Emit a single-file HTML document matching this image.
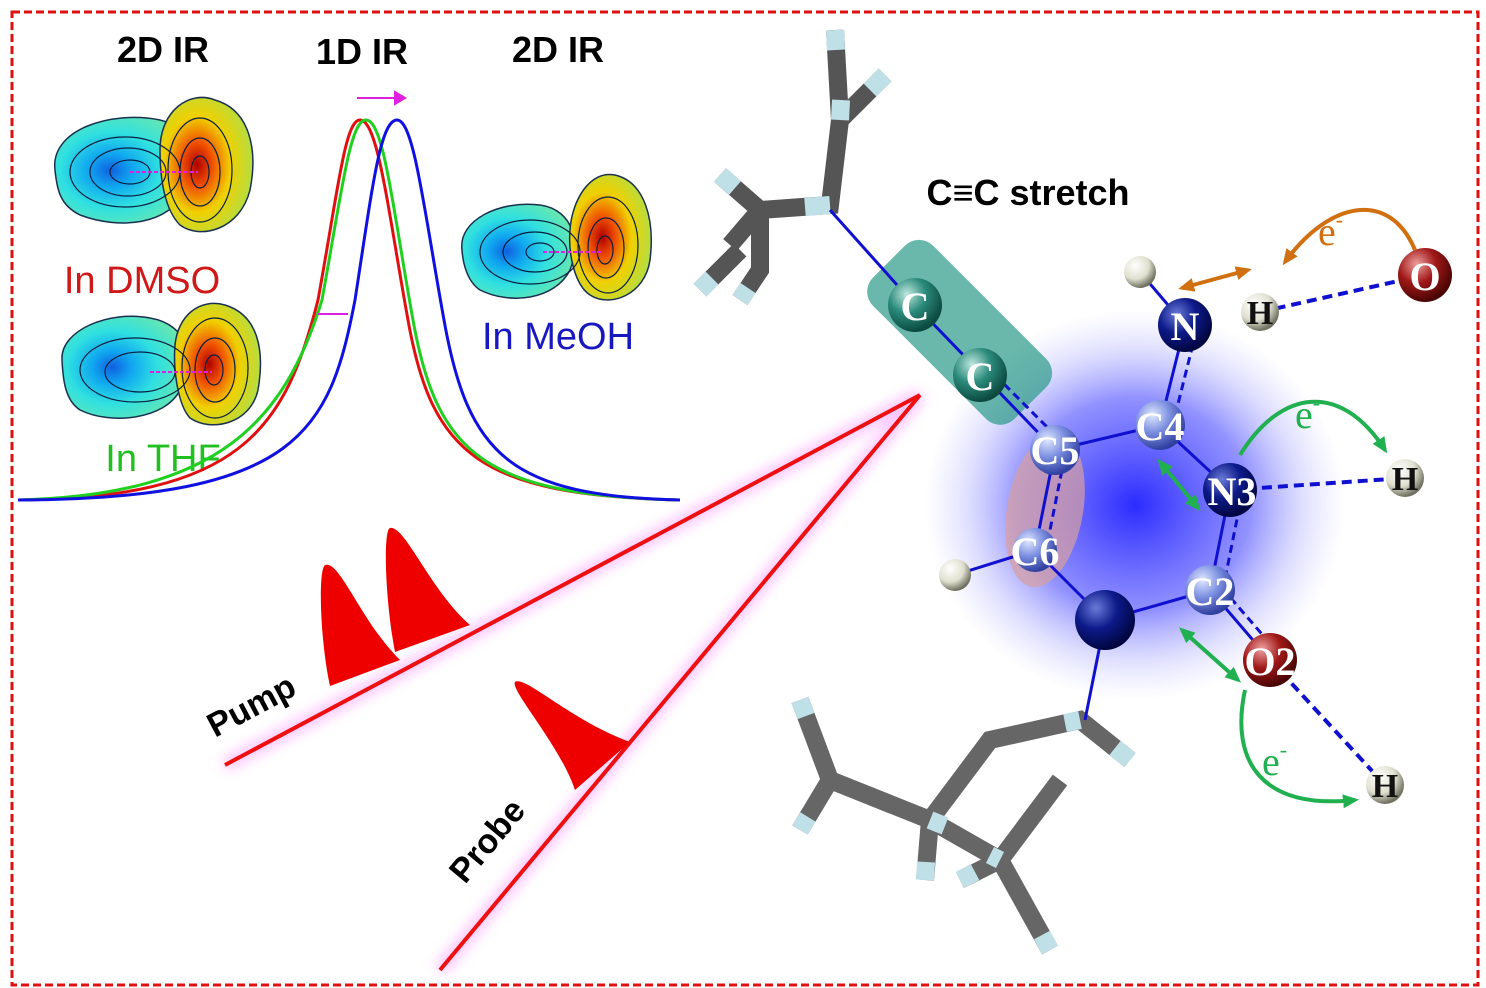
<!DOCTYPE html>
<html><head><meta charset="utf-8"><style>
body{margin:0;background:#fff;}
svg{display:block;font-family:"Liberation Sans",sans-serif;}
</style></head><body>
<svg width="1486" height="988" viewBox="0 0 1486 988" xmlns="http://www.w3.org/2000/svg">
<defs>
<radialGradient id="glow" cx="50%" cy="50%" r="50%">
<stop offset="0" stop-color="#2020ff" stop-opacity="0.95"/>
<stop offset="0.55" stop-color="#4848ff" stop-opacity="0.6"/>
<stop offset="0.8" stop-color="#8080ff" stop-opacity="0.25"/>
<stop offset="1" stop-color="#a0a0ff" stop-opacity="0"/>
</radialGradient>
<radialGradient id="navy" cx="35%" cy="30%" r="70%"><stop offset="0" stop-color="#6a7ad8"/><stop offset="0.5" stop-color="#0d1a8a"/><stop offset="1" stop-color="#020640"/></radialGradient>
<radialGradient id="cblue" cx="35%" cy="30%" r="70%"><stop offset="0" stop-color="#e0e8ff"/><stop offset="0.5" stop-color="#7b8ee0"/><stop offset="1" stop-color="#3040a0"/></radialGradient>
<radialGradient id="teal" cx="35%" cy="30%" r="70%"><stop offset="0" stop-color="#bfe8e0"/><stop offset="0.5" stop-color="#2a8a7a"/><stop offset="1" stop-color="#0c4a40"/></radialGradient>
<radialGradient id="red" cx="35%" cy="30%" r="70%"><stop offset="0" stop-color="#f0a0a0"/><stop offset="0.5" stop-color="#a01818"/><stop offset="1" stop-color="#4a0505"/></radialGradient>
<radialGradient id="white" cx="35%" cy="30%" r="70%"><stop offset="0" stop-color="#ffffff"/><stop offset="0.6" stop-color="#e0e0d0"/><stop offset="1" stop-color="#707060"/></radialGradient>
<radialGradient id="cyan" cx="40%" cy="50%" r="65%"><stop offset="0" stop-color="#1060e0"/><stop offset="0.25" stop-color="#10a8f0"/><stop offset="0.55" stop-color="#30e0e0"/><stop offset="1" stop-color="#70e8a8"/></radialGradient>
<radialGradient id="yel" cx="40%" cy="50%" r="65%"><stop offset="0" stop-color="#b00000"/><stop offset="0.25" stop-color="#f05000"/><stop offset="0.55" stop-color="#f0d000"/><stop offset="1" stop-color="#a8e050"/></radialGradient>
<filter id="blur"><feGaussianBlur stdDeviation="6"/></filter>
<marker id="ag" markerUnits="userSpaceOnUse" markerWidth="16" markerHeight="14" refX="12" refY="7" orient="auto"><path d="M0,0 L16,7 L0,14Z" fill="#20b050"/></marker>
<marker id="ao" markerUnits="userSpaceOnUse" markerWidth="16" markerHeight="14" refX="12" refY="7" orient="auto"><path d="M0,0 L16,7 L0,14Z" fill="#d07010"/></marker>
<marker id="ags" markerUnits="userSpaceOnUse" markerWidth="16" markerHeight="14" refX="12" refY="7" orient="auto-start-reverse"><path d="M0,0 L16,7 L0,14Z" fill="#20b050"/></marker>
<marker id="aos" markerUnits="userSpaceOnUse" markerWidth="16" markerHeight="14" refX="12" refY="7" orient="auto-start-reverse"><path d="M0,0 L16,7 L0,14Z" fill="#d07010"/></marker>
</defs>
<rect x="12" y="12" width="1466" height="973" fill="none" stroke="#e01010" stroke-width="3" stroke-dasharray="8,4"/>

<g font-weight="bold" font-size="36" fill="#000" text-anchor="middle">
<text x="163" y="62">2D IR</text><text x="362" y="64">1D IR</text><text x="558" y="62">2D IR</text>
<text x="1028" y="205">C≡C stretch</text>
</g>

<g stroke="#1a3050" stroke-width="1.5">
<path d="M55,170 C50,130 110,110 160,120 C200,130 200,165 185,190 C170,225 120,230 80,215 C60,205 57,190 55,170Z" fill="url(#cyan)"/>
<path d="M160,150 C160,110 190,90 215,100 C250,110 258,150 250,190 C240,230 200,240 180,225 C165,210 160,180 160,150Z" fill="url(#yel)"/>
<path d="M62,360 C60,330 110,310 150,318 C190,325 195,360 180,390 C165,420 110,425 80,410 C65,400 63,380 62,360Z" fill="url(#cyan)"/>
<path d="M175,345 C178,315 200,298 225,305 C258,315 265,350 258,390 C250,425 210,432 190,418 C178,405 173,370 175,345Z" fill="url(#yel)"/>
<path d="M462,250 C458,220 500,200 540,205 C575,210 580,245 570,270 C555,300 510,305 480,290 C468,282 463,265 462,250Z" fill="url(#cyan)"/>
<path d="M570,230 C572,200 590,170 615,175 C645,182 655,220 650,260 C645,295 610,308 590,295 C575,285 568,255 570,230Z" fill="url(#yel)"/>
</g>
<g fill="none" stroke="#0a2040" stroke-width="1.2">
<ellipse cx="125" cy="172" rx="55" ry="35"/><ellipse cx="128" cy="172" rx="38" ry="24"/><ellipse cx="130" cy="172" rx="20" ry="12"/>
<ellipse cx="200" cy="170" rx="32" ry="52"/><ellipse cx="200" cy="172" rx="20" ry="34"/><ellipse cx="200" cy="172" rx="9" ry="16"/>
<ellipse cx="135" cy="370" rx="55" ry="32"/><ellipse cx="140" cy="372" rx="35" ry="20"/>
<ellipse cx="215" cy="368" rx="33" ry="50"/><ellipse cx="215" cy="370" rx="20" ry="32"/><ellipse cx="214" cy="370" rx="9" ry="15"/>
<ellipse cx="530" cy="252" rx="50" ry="32"/><ellipse cx="535" cy="252" rx="32" ry="20"/><ellipse cx="540" cy="252" rx="14" ry="9"/>
<ellipse cx="608" cy="245" rx="30" ry="48"/><ellipse cx="606" cy="248" rx="18" ry="30"/><ellipse cx="605" cy="250" rx="8" ry="14"/>
</g>
<g stroke="#e020e0" stroke-width="2" stroke-dasharray="4,2"><line x1="130" y1="172" x2="198" y2="172"/><line x1="150" y1="372" x2="212" y2="372"/><line x1="543" y1="252" x2="603" y2="252"/></g>
<g font-size="38" text-anchor="middle">
<text x="142" y="293" fill="#d01818">In DMSO</text>
<text x="163" y="471" fill="#20c020">In THF</text>
<text x="558" y="349" fill="#1818c0">In MeOH</text>
</g>

<g fill="none" stroke-width="3">
<path d="M18,500 C240,498 285,430 318,300 C338,190 345,120 360,120 C378,120 388,210 408,320 C432,455 480,495 680,500" stroke="#e01010"/>
<path d="M18,500 C220,495 285,420 322,300 C342,190 350,120 366,120 C384,120 393,210 413,320 C437,455 485,495 680,500" stroke="#20d020"/>
<path d="M18,500 C300,499 330,430 355,300 C372,190 380,120 397,120 C414,120 424,210 444,320 C468,455 510,496 680,500" stroke="#1010e0"/>
</g>
<g stroke="#e020e0" stroke-width="2" fill="#e020e0">
<line x1="357" y1="98" x2="397" y2="98"/><path d="M405,98 L395,92 L395,104Z"/>
<line x1="318" y1="314" x2="348" y2="314"/>
</g>

<g stroke="#ff60ff" stroke-width="14" opacity="0.35" filter="url(#blur)" fill="none">
<line x1="225" y1="765" x2="920" y2="395"/><line x1="440" y1="970" x2="920" y2="395"/>
</g>
<g stroke="#ee1010" stroke-width="4"><line x1="225" y1="765" x2="920" y2="395"/><line x1="440" y1="970" x2="920" y2="395"/></g>
<g fill="#ee0000">
<path d="M330,686 C320,640 318,570 325,565 C340,560 360,620 400,660 Z"/>
<path d="M395,652 C385,600 383,530 390,528 C405,525 430,590 470,625 Z"/>
<path d="M575,790 C560,745 510,690 515,682 C525,675 570,720 630,742 Z"/>
</g>
<g font-weight="bold" font-size="34" fill="#000">
<text transform="translate(215,738) rotate(-28)">Pump</text>
<text transform="translate(465,885) rotate(-50)">Probe</text>
</g>

<ellipse cx="1135" cy="505" rx="210" ry="195" fill="url(#glow)"/>
<rect x="860" y="290" width="200" height="85" rx="20" fill="#2a9a88" opacity="0.7" transform="rotate(45,960,332)"/>
<ellipse cx="1045" cy="510" rx="38" ry="78" fill="#d8a0a0" opacity="0.7" transform="rotate(10,1045,510)"/>

<g stroke-linecap="butt" stroke-width="18" fill="none">
<path d="M835,30 L840,120 L885,75 M840,120 L830,205 L760,210 L730,245 M760,210 L720,175 M760,210 L760,270 L740,300 M700,290 L740,250" stroke="#555"/>
<path d="M800,700 L830,780 L930,820 L990,740 L1080,720 L1130,760 M930,820 L1000,860 L1050,950 M1000,860 L1060,780 M830,780 L800,830 M930,820 L925,880 M1000,860 L960,880" stroke="#666"/>
<path d="M835,30 L836,50 M885,75 L870,90 M720,175 L735,188 M700,290 L712,278 M740,300 L748,288 M830,205 L805,207 M840,120 L841,100 M800,700 L806,716 M1050,950 L1042,935 M800,830 L808,817 M925,880 L926,862 M960,880 L975,872 M1130,760 L1115,748 M1080,720 L1065,723 M930,820 L945,826 M1000,860 L990,855" stroke="#c0e0e8"/>
</g>
<g stroke="#1010d0" stroke-width="3" fill="none">
<line x1="830" y1="210" x2="915" y2="305"/>
<line x1="915" y1="305" x2="1055" y2="450"/>
<line x1="1055" y1="450" x2="1160" y2="425"/>
<line x1="1160" y1="425" x2="1230" y2="490"/>
<line x1="1230" y1="490" x2="1210" y2="590"/>
<line x1="1210" y1="590" x2="1105" y2="620"/>
<line x1="1105" y1="620" x2="1035" y2="550"/>
<line x1="1035" y1="550" x2="1055" y2="450"/>
<line x1="1160" y1="425" x2="1185" y2="325"/>
<line x1="1210" y1="590" x2="1270" y2="660"/>
<line x1="1105" y1="620" x2="1085" y2="720"/>
<line x1="1035" y1="550" x2="955" y2="575"/>
<line x1="1185" y1="325" x2="1140" y2="272"/>
</g>
<g stroke="#1010d0" stroke-width="3" stroke-dasharray="8,5" fill="none">
<line x1="1045" y1="555" x2="1065" y2="455"/>
<line x1="1172" y1="428" x2="1197" y2="328"/>
<line x1="1242" y1="494" x2="1222" y2="594"/>
<line x1="1222" y1="588" x2="1280" y2="655"/>
<line x1="995" y1="375" x2="1060" y2="440"/>
</g>
<g stroke="#1010d0" stroke-width="4" stroke-dasharray="10,6" fill="none">
<line x1="1260" y1="312" x2="1425" y2="275"/>
<line x1="1230" y1="490" x2="1405" y2="478"/>
<line x1="1270" y1="660" x2="1385" y2="785"/>
</g>

<g>
<circle cx="915" cy="305" r="27" fill="url(#teal)"/>
<circle cx="980" cy="375" r="27" fill="url(#teal)"/>
<circle cx="1055" cy="450" r="25" fill="url(#cblue)"/>
<circle cx="1160" cy="425" r="25" fill="url(#cblue)"/>
<circle cx="1230" cy="490" r="27" fill="url(#navy)"/>
<circle cx="1210" cy="590" r="25" fill="url(#cblue)"/>
<circle cx="1270" cy="660" r="27" fill="url(#red)"/>
<circle cx="1105" cy="620" r="30" fill="url(#navy)"/>
<circle cx="1035" cy="550" r="22" fill="url(#cblue)"/>
<circle cx="1185" cy="325" r="27" fill="url(#navy)"/>
<circle cx="1260" cy="312" r="19" fill="url(#white)"/>
<circle cx="1425" cy="275" r="27" fill="url(#red)"/>
<circle cx="1405" cy="478" r="19" fill="url(#white)"/>
<circle cx="1385" cy="785" r="19" fill="url(#white)"/>
<circle cx="1140" cy="272" r="16" fill="url(#white)"/>
<circle cx="955" cy="575" r="16" fill="url(#white)"/>
</g>
<g font-family="'Liberation Serif',serif" font-weight="bold" font-size="40" fill="#fff" text-anchor="middle">
<text x="915" y="320">C</text><text x="980" y="390">C</text>
<text x="1055" y="464">C5</text><text x="1160" y="440">C4</text>
<text x="1232" y="505">N3</text><text x="1210" y="605">C2</text>
<text x="1270" y="675">O2</text><text x="1035" y="565">C6</text>
<text x="1185" y="340">N</text><text x="1425" y="290">O</text>
</g>
<g font-family="'Liberation Serif',serif" font-weight="bold" font-size="34" fill="#111" text-anchor="middle">
<text x="1260" y="324">H</text><text x="1405" y="490">H</text><text x="1385" y="797">H</text>
</g>
<g fill="none" stroke-width="4">
<path d="M1415,250 C1390,190 1330,200 1285,262" stroke="#d07010" marker-end="url(#ao)"/>
<path d="M1240,455 C1280,390 1340,380 1385,450" stroke="#20b050" marker-end="url(#ag)"/>
<path d="M1245,690 C1230,760 1260,810 1355,800" stroke="#20b050" marker-end="url(#ag)"/>
<line x1="1182" y1="288" x2="1248" y2="270" stroke="#d07010" marker-start="url(#aos)" marker-end="url(#ao)"/>
<line x1="1160" y1="462" x2="1198" y2="508" stroke="#20b050" marker-start="url(#ags)" marker-end="url(#ag)"/>
<line x1="1182" y1="630" x2="1238" y2="680" stroke="#20b050" marker-start="url(#ags)" marker-end="url(#ag)"/>
</g>
<g font-family="'Liberation Serif',serif" font-size="40">
<text x="1318" y="245" fill="#d07010">e<tspan font-size="22" dy="-18">-</tspan></text>
<text x="1295" y="428" fill="#20b050">e<tspan font-size="22" dy="-18">-</tspan></text>
<text x="1262" y="775" fill="#20b050">e<tspan font-size="22" dy="-18">-</tspan></text>
</g>
</svg>
</body></html>
